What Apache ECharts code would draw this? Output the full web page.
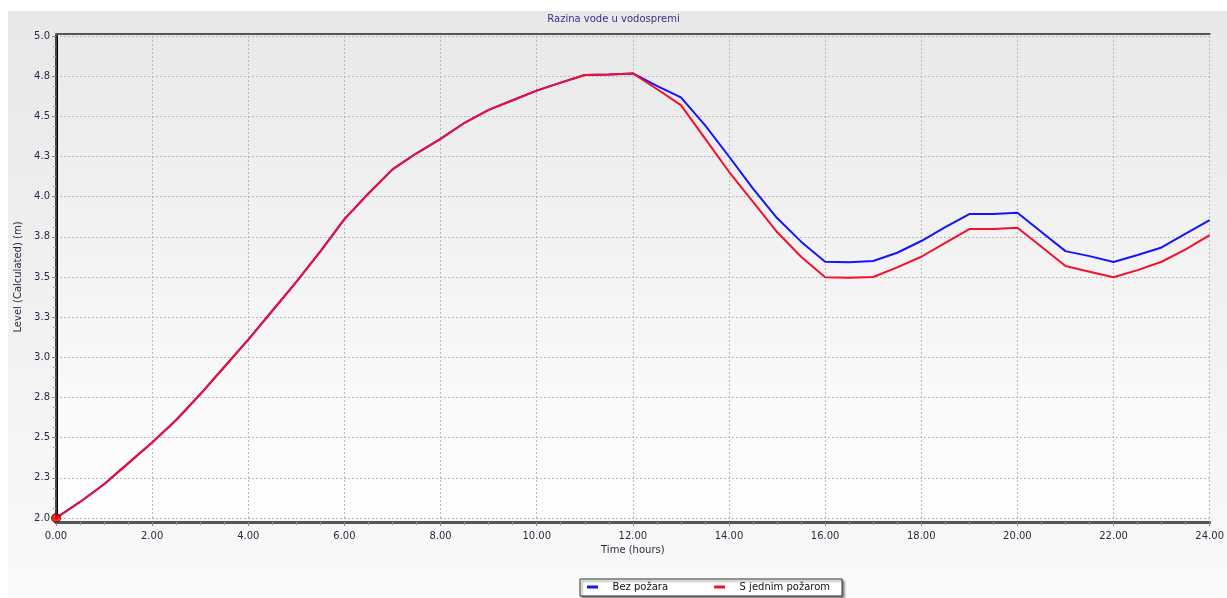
<!DOCTYPE html>
<html>
<head>
<meta charset="utf-8">
<script src="https://cdn.jsdelivr.net/npm/echarts@6/dist/echarts.min.js"></script>
<style>
html,body{margin:0;padding:0;background:#fff;}
#chart{width:1227px;height:598px;}
</style>
</head>
<body>
<div id="chart"></div>
<script>
var chartTitle = 'Razina vode u vodospremi';
var xName = 'Time (hours)';
var yName = 'Level (Calculated) (m)';
var seriesNames = ['Bez požara', 'S jednim požarom'];
var times = [0,0.5,1,1.5,2,2.5,3,3.5,4,4.5,5,5.5,6,6.5,7,7.5,8,8.5,9,9.5,10,10.5,11,11.5,12,
             12.5,13,13.5,14,14.5,15,15.5,16,16.5,17,17.5,18,18.5,19,19.5,20,20.5,21,21.5,22,22.5,23,23.5,24];
var bezPozara = [2.00,2.10,2.21,2.34,2.47,2.61,2.77,2.94,3.11,3.29,3.47,3.66,3.86,4.02,4.17,4.27,4.36,4.46,4.54,4.60,4.66,4.71,4.757,4.76,4.767,
                 4.69,4.618,4.445,4.25,4.05,3.867,3.72,3.595,3.592,3.60,3.651,3.724,3.81,3.892,3.892,3.90,3.78,3.661,3.63,3.593,3.637,3.684,3.77,3.854];
var sJednimPozarom = [2.00,2.10,2.21,2.34,2.47,2.61,2.77,2.94,3.11,3.29,3.47,3.66,3.86,4.02,4.17,4.27,4.36,4.46,4.54,4.60,4.66,4.71,4.757,4.76,4.767,
                 4.67,4.57,4.363,4.155,3.968,3.78,3.626,3.498,3.495,3.50,3.56,3.626,3.713,3.798,3.798,3.806,3.688,3.568,3.533,3.498,3.543,3.595,3.672,3.761];
var xTickLabels = ['0.00','2.00','4.00','6.00','8.00','10.00','12.00','14.00','16.00','18.00','20.00','22.00','24.00'];
var yTickLabels = ['2.0','2.3','2.5','2.8','3.0','3.3','3.5','3.8','4.0','4.3','4.5','4.8','5.0'];

function pairs(xs, ys){ return xs.map(function(x,i){ return [x, ys[i]]; }); }

var FONT = 'DejaVu Sans';
var LABEL_COLOR = '#2a2a44';
var GRID_COLOR = '#b8b8b8';
var chart = echarts.init(document.getElementById('chart'), null, {renderer:'canvas'});
chart.setOption({
  animation: false,
  backgroundColor: '#ffffff',
  graphic: [{
    type: 'rect', z: -10, silent: true,
    shape: {x: 8, y: 11, width: 1219, height: 587},
    style: {fill: new echarts.graphic.LinearGradient(0,0,0,1,[{offset:0,color:'#e8e8e8'},{offset:1,color:'#fafafa'}])}
  }],
  title: {
    text: chartTitle, left: 'center', top: 9,
    textStyle: {fontFamily: FONT, fontSize: 10, fontWeight: 'normal', color: '#3d2b8f'}
  },
  legend: {
    data: seriesNames,
    left: 580, top: 579,
    backgroundColor: '#ffffff', borderColor: '#333', borderWidth: 1,
    shadowColor: 'rgba(0,0,0,0.45)', shadowOffsetX: 2, shadowOffsetY: 2, shadowBlur: 2,
    padding: [3, 12, 4, 7],
    icon: 'rect', itemWidth: 11, itemHeight: 3, itemGap: 46,
    formatter: function(n){ return '   ' + n; },
    textStyle: {fontFamily: FONT, fontSize: 10, color: '#111'}
  },
  grid: {
    left: 56, right: 17, top: 36, bottom: 80, show: true, borderWidth: 0,
    backgroundColor: new echarts.graphic.LinearGradient(0,0,0,1,[{offset:0,color:'#e9e9e9'},{offset:1,color:'#ffffff'}])
  },
  xAxis: [{
    type: 'value', min: 0, max: 24, interval: 2, offset: 4,
    name: xName, nameLocation: 'middle', nameGap: 22,
    nameTextStyle: {fontFamily: FONT, fontSize: 10, color: LABEL_COLOR},
    axisLine: {show: true, lineStyle: {color: '#555', width: 3}},
    axisTick: {show: true, length: 4, lineStyle: {color: '#888'}},
    minorTick: {show: true, splitNumber: 4, length: 3, lineStyle: {color: '#999'}},
    axisLabel: {fontFamily: FONT, fontSize: 10, color: LABEL_COLOR, margin: 9,
      formatter: function(v, i){ return xTickLabels[i]; }},
    splitLine: {show: true, lineStyle: {color: GRID_COLOR, type: [2,2], width: 1}}
  },{
    type: 'value', position: 'top', min: 0, max: 24, offset: 2,
    axisLine: {show: true, lineStyle: {color: '#555', width: 2}},
    axisTick: {show: false}, axisLabel: {show: false}, splitLine: {show: false}
  }],
  yAxis: [{
    type: 'value', min: 2, max: 5, interval: 0.25,
    name: yName, nameLocation: 'middle', nameGap: 33, nameRotate: 90,
    nameTextStyle: {fontFamily: FONT, fontSize: 10, color: LABEL_COLOR},
    axisLine: {show: true, lineStyle: {color: '#000', width: 3}},
    axisTick: {show: true, length: 4, lineStyle: {color: '#888'}},
    minorTick: {show: true, splitNumber: 4, length: 3, lineStyle: {color: '#aaa'}},
    axisLabel: {fontFamily: FONT, fontSize: 10, color: LABEL_COLOR, margin: 6,
      formatter: function(v, i){ return yTickLabels[i]; }},
    splitLine: {show: true, lineStyle: {color: GRID_COLOR, type: [2,2], width: 1}}
  },{
    type: 'value', position: 'right', min: 2, max: 5, offset: 1,
    axisLine: {show: true, lineStyle: {color: '#444', width: 2}},
    axisTick: {show: false}, axisLabel: {show: false}, splitLine: {show: false}
  }],
  series: [{
    name: seriesNames[0], type: 'line', data: pairs(times, bezPozara),
    symbol: 'none', lineStyle: {color: '#1414ff', width: 2}, itemStyle: {color: '#1414ff'}
  },{
    name: seriesNames[1], type: 'line', data: pairs(times, sJednimPozarom),
    symbol: 'none', lineStyle: {color: '#f4102c', width: 2}, itemStyle: {color: '#f4102c'}
  },{
    name: 'start', type: 'scatter', data: [[times[0], sJednimPozarom[0]]],
    symbol: 'circle', symbolSize: 9, z: 5,
    itemStyle: {color: '#ee0000', borderColor: '#5a0000', borderWidth: 1}
  }]
});
</script>
</body>
</html>
